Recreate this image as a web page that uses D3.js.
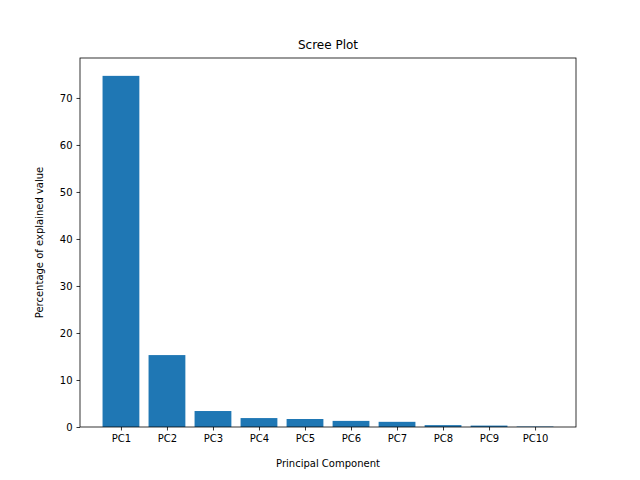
<!DOCTYPE html>
<html><head><meta charset="utf-8">
<script src="https://cdn.jsdelivr.net/npm/d3@7"></script>
<style>body{margin:0;background:#fff}text{font-family:"DejaVu Sans",sans-serif}</style>
</head><body><div id="plot"></div>
<script>
var categories = ["PC1","PC2","PC3","PC4","PC5","PC6","PC7","PC8","PC9","PC10"];
var values = [74.7,15.3,3.4,1.9,1.7,1.3,1.1,0.4,0.3,0.1];
var yTicks = [0,10,20,30,40,50,60,70];

var margin = {t:58,r:64,b:53,l:80};
var width = 640 - margin.l - margin.r,
    height = 480 - margin.t - margin.b;

var svg = d3.select('#plot').append('svg')
    .attr('width',640).attr('height',480);
var plot = svg.append('g')
    .attr('transform','translate('+margin.l+','+margin.t+')');

var x = d3.scaleLinear().domain([-0.89, 9.89]).range([0,width]);
var y = d3.scaleLinear().domain([0, 78.5]).range([height,0]);

plot.selectAll('rect.bar').data(values).enter().append('rect')
    .attr('class','bar')
    .attr('x',function(d,i){return x(i-0.4);})
    .attr('width',x(0.8)-x(0))
    .attr('y',function(d){return y(d);})
    .attr('height',function(d){return height-y(d);})
    .attr('fill','#1f77b4');

var xAxis = plot.append('g').attr('transform','translate(0,'+height+')')
    .call(d3.axisBottom(x).tickValues(d3.range(10)).tickFormat(function(i){return categories[i];}).tickSizeOuter(0).tickSize(3.5).tickPadding(4));
var yAxis = plot.append('g')
    .call(d3.axisLeft(y).tickValues(yTicks).tickSizeOuter(0).tickSize(3.5).tickPadding(4));
[xAxis,yAxis].forEach(function(a){
  a.selectAll('text').style('font-size','10px').attr('fill','#000');
  a.selectAll('.domain').remove();
  a.selectAll('line').attr('stroke','#000').attr('stroke-width',0.8);
});

plot.append('rect').attr('width',width).attr('height',height)
    .attr('fill','none').attr('stroke','#000').attr('stroke-width',0.8);

svg.append('text').attr('x',margin.l+width/2).attr('y',49).attr('text-anchor','middle')
    .style('font-size','12px').text('Scree Plot');
svg.append('text').attr('x',margin.l+width/2).attr('y',467).attr('text-anchor','middle')
    .style('font-size','10px').text('Principal Component');
svg.append('text').attr('transform','translate(43,'+(margin.t+height/2)+') rotate(-90)')
    .attr('text-anchor','middle').style('font-size','10px').text('Percentage of explained value');
</script></body></html>
